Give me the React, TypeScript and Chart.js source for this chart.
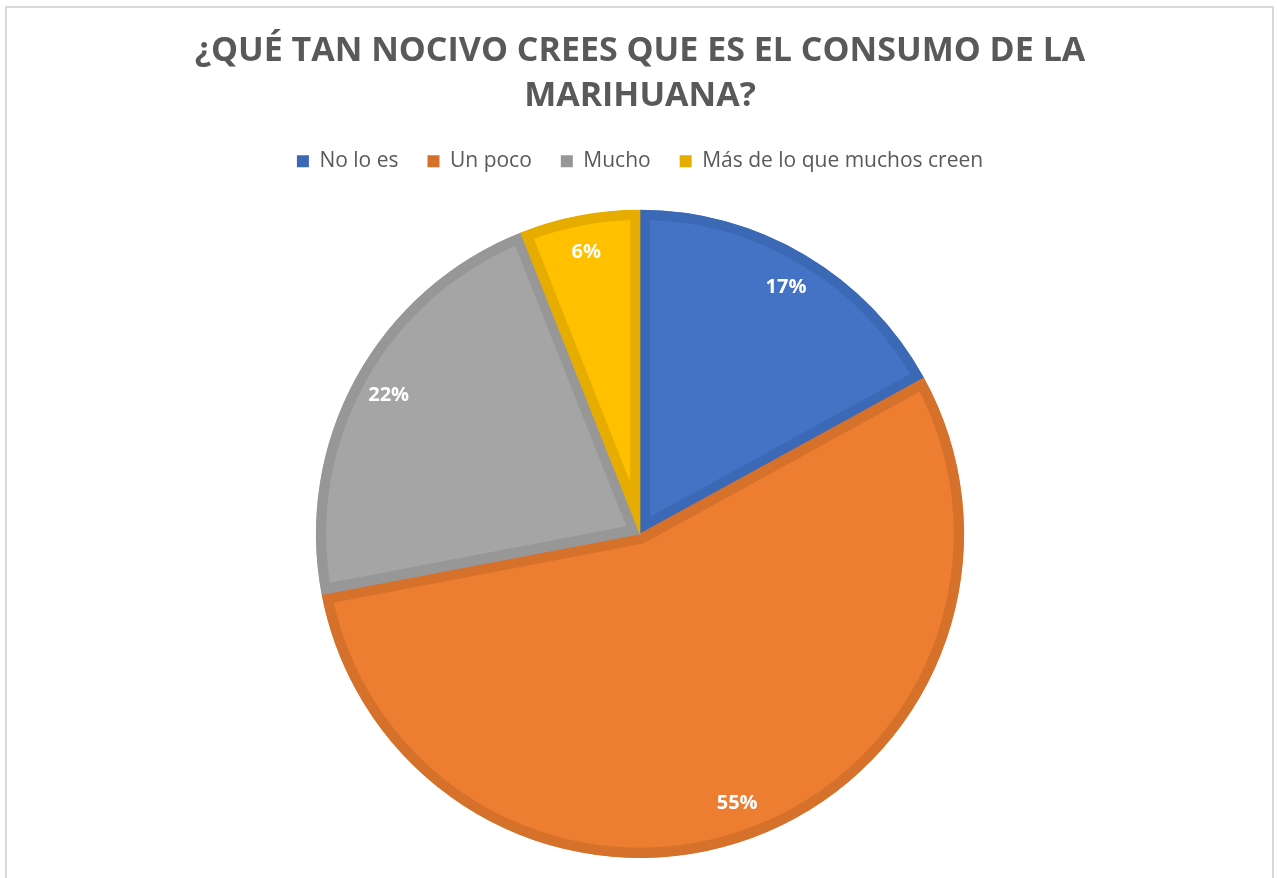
import { useEffect, useRef } from 'react';
import { Chart, registerables } from 'chart.js';

Chart.register(...registerables);

const categories = ['No lo es', 'Un poco', 'Mucho', 'Más de lo que muchos creen'];
const percentages = [17, 55, 22, 6];
const fillColors = ['#4472C4', '#ED7D31', '#A5A5A5', '#FFC000'];
const edgeColors = ['#3C69B5', '#D6712C', '#979797', '#E6AD00'];
const titleLines = ['¿QUÉ TAN NOCIVO CREES QUE ES EL CONSUMO DE LA', 'MARIHUANA?'];

const FONT = '"Open Sans", "DejaVu Sans", sans-serif';

const framePlugin = {
  id: 'frame',
  beforeInit(chart: any) {
    const legend = chart.legend;
    if (legend && !legend.__patched) {
      const origFit = legend.fit;
      legend.fit = function () {
        origFit.call(this);
        this.height += 28;
      };
      legend.__patched = true;
    }
  },
  beforeDraw(chart: any) {
    const ctx = chart.ctx;
    ctx.save();
    ctx.fillStyle = '#FFFFFF';
    ctx.fillRect(0, 0, chart.width, chart.height);
    ctx.strokeStyle = '#D9D9D9';
    ctx.lineWidth = 2;
    ctx.strokeRect(6, 7, 1267, chart.height + 20);
    ctx.restore();
  },
};

const labelPlugin = {
  id: 'sliceLabels',
  afterDatasetsDraw(chart: any) {
    const ctx = chart.ctx;
    const meta = chart.getDatasetMeta(0);
    ctx.save();
    ctx.fillStyle = '#FFFFFF';
    ctx.font = `bold 20px ${FONT}`;
    ctx.textAlign = 'center';
    ctx.textBaseline = 'middle';
    meta.data.forEach((arc: any, i: number) => {
      const { x, y, startAngle, endAngle, outerRadius } = arc.getProps(
        ['x', 'y', 'startAngle', 'endAngle', 'outerRadius'],
        true
      );
      const mid = (startAngle + endAngle) / 2;
      const r = outerRadius * 0.885;
      ctx.fillText(percentages[i] + '%', x + Math.cos(mid) * r, y + Math.sin(mid) * r);
    });
    ctx.restore();
  },
};

export default function App() {
  const canvasRef = useRef<HTMLCanvasElement | null>(null);

  useEffect(() => {
    if (!canvasRef.current) return;
    const defaultGen = (Chart as any).overrides.pie.plugins.legend.labels.generateLabels;
    const chart = new Chart(canvasRef.current, {
      type: 'pie',
      data: {
        labels: categories,
        datasets: [
          {
            data: percentages,
            backgroundColor: fillColors,
            borderColor: edgeColors,
            borderWidth: 10,
            borderAlign: 'inner',
          },
        ],
      },
      options: {
        responsive: false,
        animation: false,
        layout: { padding: { left: 3, right: 0, bottom: 20, top: 0 } },
        plugins: {
          title: {
            display: true,
            text: titleLines,
            color: '#595959',
            font: { family: FONT, size: 34, weight: 'bold', lineHeight: 1.32 },
            padding: { top: 29, bottom: 3 },
          },
          legend: {
            display: true,
            position: 'top',
            labels: {
              color: '#595959',
              font: { family: FONT, size: 21 },
              boxWidth: 12,
              boxHeight: 12,
              padding: 29,
              generateLabels: (c: any) =>
                defaultGen(c).map((item: any, i: number) => ({
                  ...item,
                  fillStyle: edgeColors[i],
                  strokeStyle: edgeColors[i],
                  lineWidth: 0,
                })),
            },
          },
          tooltip: { enabled: false },
        },
      },
      plugins: [framePlugin, labelPlugin],
    } as any);
    return () => chart.destroy();
  }, []);

  return (
    <div style={{ position: 'fixed', left: 0, top: 0, width: 1277, height: 878, background: '#fff' }}>
      <canvas ref={canvasRef} width={1277} height={878} style={{ display: 'block' }} />
    </div>
  );
}
